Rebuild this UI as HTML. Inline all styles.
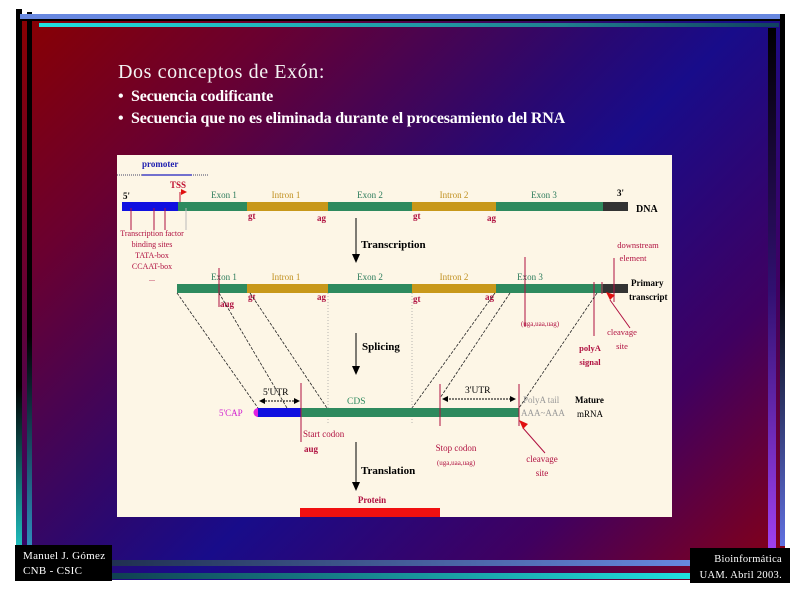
<!DOCTYPE html>
<html><head><meta charset="utf-8"><style>
body{margin:0;width:800px;height:600px;background:#fff;position:relative;overflow:hidden;font-family:"Liberation Serif",serif}
.a{position:absolute;white-space:nowrap}
</style></head><body>
<div class="a" style="left:17px;top:14px;width:768px;height:566px;background:linear-gradient(135deg,#8a0000 0%,#6a0030 20%,#2a0870 45%,#180c8a 55%,#400060 78%,#8a0010 100%)"></div>
<div class="a" style="left:16px;top:9px;width:6px;height:540px;background:linear-gradient(#000,#000 70%,#20c0c0)"></div>
<div class="a" style="left:27px;top:12px;width:5px;height:540px;background:linear-gradient(#000,#000 60%,#3090c0)"></div>
<div class="a" style="left:20px;top:14px;width:762px;height:5px;background:#6888e0"></div>
<div class="a" style="left:20px;top:19px;width:762px;height:2px;background:#000"></div>
<div class="a" style="left:39px;top:23px;width:740px;height:4px;background:linear-gradient(90deg,#20e0e0,#208090 70%,#104060)"></div>
<div class="a" style="left:768px;top:28px;width:8px;height:522px;background:linear-gradient(#000,#301070 50%,#a040f0)"></div>
<div class="a" style="left:780px;top:14px;width:5px;height:532px;background:linear-gradient(#000,#000 50%,#6070e0)"></div>
<div class="a" style="left:110px;top:560px;width:582px;height:6px;background:linear-gradient(90deg,#203050,#6888e0)"></div>
<div class="a" style="left:110px;top:573px;width:582px;height:6px;background:linear-gradient(90deg,#104050,#20e0e0)"></div>
<div class="a" style="left:15px;top:545px;width:97px;height:36px;background:#000;color:#fff;font-size:11px;line-height:15px;padding:4px 0 0 8px;box-sizing:border-box;letter-spacing:.3px">Manuel J. Gómez<br>CNB - CSIC</div>
<div class="a" style="left:690px;top:548px;width:100px;height:35px;background:#000;color:#fff;font-size:10.5px;line-height:16px;padding:4px 8px 0 0;box-sizing:border-box;text-align:right;letter-spacing:.3px">Bioinformática<br>UAM. Abril 2003.</div>
<div class="a" style="left:118px;top:61px;color:#f4f4f4;font-size:20px;letter-spacing:.6px">Dos conceptos de Exón:</div>
<div class="a" style="left:118px;top:88px;color:#fff;font-size:16px;font-weight:bold">•</div>
<div class="a" style="left:118px;top:110px;color:#fff;font-size:16px;font-weight:bold">•</div>
<div class="a" style="left:131px;top:88px;color:#fff;font-size:16px;font-weight:bold;letter-spacing:-.2px">Secuencia codificante</div>
<div class="a" style="left:131px;top:110px;color:#fff;font-size:16px;font-weight:bold;letter-spacing:-.2px">Secuencia que no es eliminada durante el procesamiento del RNA</div>
<svg class="a" style="left:0;top:0" width="800" height="600" font-family="Liberation Serif,serif">
<rect x="117" y="155" width="555" height="362" fill="#fdf6e6"/>
<g font-size="9">
<text x="142" y="167" fill="#2020b0" font-weight="bold">promoter</text>
<line x1="117" y1="175" x2="208" y2="175" stroke="#446" stroke-dasharray="1,1"/>
<line x1="142" y1="175" x2="192" y2="175" stroke="#2020c0" stroke-width="1.2"/>
<text x="123" y="199" font-weight="bold">5'</text><text x="617" y="196" font-weight="bold">3'</text>
<text x="170" y="188" fill="#c01030" font-weight="bold">TSS</text>
<line x1="180" y1="192" x2="180" y2="203" stroke="#c01030"/><path d="M181,189 l6,3 -6,3z" fill="#e01010"/>
<g fill="#2a7a5a" text-anchor="middle"><text x="224" y="198">Exon 1</text><text x="370" y="198">Exon 2</text><text x="544" y="198">Exon 3</text>
<text x="224" y="280">Exon 1</text><text x="370" y="280">Exon 2</text><text x="530" y="280">Exon 3</text></g>
<g fill="#c09020" text-anchor="middle"><text x="286" y="198">Intron 1</text><text x="454" y="198">Intron 2</text><text x="286" y="280">Intron 1</text><text x="454" y="280">Intron 2</text></g>
</g>
<rect x="122" y="202" width="56" height="9" fill="#1010e0"/>
<rect x="178" y="202" width="69" height="9" fill="#2e8a5e"/><rect x="247" y="202" width="81" height="9" fill="#c8981a"/>
<rect x="328" y="202" width="84" height="9" fill="#2e8a5e"/><rect x="412" y="202" width="84" height="9" fill="#c8981a"/>
<rect x="496" y="202" width="107" height="9" fill="#2e8a5e"/><rect x="603" y="202" width="25" height="9" fill="#333"/>
<text x="636" y="212" font-size="10" font-weight="bold">DNA</text>
<g stroke="#b01040"><line x1="131" y1="208" x2="131" y2="230"/><line x1="154" y1="208" x2="154" y2="230"/><line x1="165" y1="208" x2="165" y2="230"/></g>
<line x1="186" y1="208" x2="186" y2="230" stroke="#bbb"/>
<g fill="#b01040" font-size="8" text-anchor="middle"><text x="152" y="236">Transcription factor</text><text x="152" y="247">binding sites</text><text x="152" y="258">TATA-box</text><text x="152" y="269">CCAAT-box</text><text x="152" y="281">...</text></g>
<g fill="#b01040" font-size="9" font-weight="bold"><text x="248" y="219">gt</text><text x="317" y="221">ag</text><text x="413" y="219">gt</text><text x="487" y="221">ag</text>
<text x="248" y="300">gt</text><text x="317" y="300">ag</text><text x="413" y="302">gt</text><text x="485" y="300">ag</text><text x="220" y="307">aug</text></g>
<line x1="356" y1="218" x2="356" y2="256" stroke="#000"/><path d="M352,254 h8 l-4,9z"/>
<text x="361" y="248" font-size="11" font-weight="bold">Transcription</text>
<rect x="177" y="284" width="70" height="9" fill="#2e8a5e"/><rect x="247" y="284" width="81" height="9" fill="#c8981a"/>
<rect x="328" y="284" width="84" height="9" fill="#2e8a5e"/><rect x="412" y="284" width="84" height="9" fill="#c8981a"/>
<rect x="496" y="284" width="107" height="9" fill="#2e8a5e"/><rect x="603" y="284" width="25" height="9" fill="#333"/>
<text x="631" y="286" font-size="9" font-weight="bold">Primary</text><text x="629" y="300" font-size="9" font-weight="bold">transcript</text>
<g stroke="#b01040"><line x1="219" y1="268" x2="219" y2="307"/><line x1="525" y1="257" x2="525" y2="327"/><line x1="614" y1="258" x2="614" y2="302"/><line x1="594" y1="282" x2="594" y2="336"/><line x1="602" y1="282" x2="602" y2="294"/></g>
<line x1="630" y1="328" x2="610" y2="300" stroke="#b01040"/><path d="M606,292 l9,3 -5,5z" fill="#e01010"/>
<g fill="#b01040" font-size="8.5"><text x="540" y="326" text-anchor="middle" font-size="7">(uga,uaa,uag)</text>
<text x="638" y="248" text-anchor="middle">downstream</text><text x="633" y="261" text-anchor="middle">element</text>
<text x="622" y="335" text-anchor="middle">cleavage</text><text x="622" y="349" text-anchor="middle">site</text>
<text x="590" y="351" text-anchor="middle" font-weight="bold">polyA</text><text x="590" y="365" text-anchor="middle" font-weight="bold">signal</text></g>
<g stroke="#222" stroke-width=".8" stroke-dasharray="3,1.5" fill="none">
<line x1="177" y1="293" x2="258" y2="408"/><line x1="219" y1="293" x2="287" y2="408"/><line x1="250" y1="293" x2="327" y2="408"/>
<line x1="495" y1="293" x2="412" y2="408"/><line x1="510" y1="293" x2="440" y2="398"/><line x1="597" y1="293" x2="519" y2="408"/></g>
<g stroke="#999" stroke-width=".7" stroke-dasharray="1,2"><line x1="328" y1="293" x2="328" y2="425"/><line x1="412" y1="293" x2="412" y2="425"/></g>
<line x1="356" y1="333" x2="356" y2="368" stroke="#000"/><path d="M352,366 h8 l-4,9z"/>
<text x="362" y="350" font-size="11" font-weight="bold">Splicing</text>
<rect x="257" y="408" width="44" height="9" fill="#1010e0"/><rect x="301" y="408" width="218" height="9" fill="#2e8a5e"/>
<path d="M258,408 a4.5,4.5 0 0 0 0,9z" fill="#e020e0"/>
<text x="219" y="416" font-size="9" fill="#d020d0">5'CAP</text>
<g stroke="#b01040"><line x1="301" y1="383" x2="301" y2="442"/><line x1="440" y1="384" x2="440" y2="426"/><line x1="519" y1="384" x2="519" y2="426"/></g>
<g stroke="#000" stroke-dasharray="2,1"><line x1="262" y1="401" x2="297" y2="401"/><line x1="446" y1="399" x2="512" y2="399"/></g>
<path d="M259,401 l6,-3 0,6z M300,401 l-6,-3 0,6z M442,399 l6,-3 0,6z M516,399 l-6,-3 0,6z"/>
<text x="263" y="395" font-size="9.5">5'UTR</text><text x="465" y="393" font-size="9.5">3'UTR</text>
<text x="347" y="404" font-size="9.5" fill="#2e8a5e">CDS</text>
<text x="523" y="403" font-size="9" fill="#999">PolyA tail</text><text x="521" y="416" font-size="9" fill="#999">AAA~AAA</text>
<text x="575" y="403" font-size="9" font-weight="bold">Mature</text><text x="577" y="417" font-size="9">mRNA</text>
<line x1="545" y1="453" x2="523" y2="428" stroke="#b01040"/><path d="M519,420 l9,4 -5,5z" fill="#e01010"/>
<g fill="#b01040" font-size="9"><text x="303" y="437">Start codon</text><text x="304" y="452" font-weight="bold">aug</text>
<text x="456" y="451" text-anchor="middle">Stop codon</text><text x="456" y="465" text-anchor="middle" font-size="7">(uga,uaa,uag)</text>
<text x="542" y="462" text-anchor="middle">cleavage</text><text x="542" y="476" text-anchor="middle">site</text>
<text x="372" y="503" text-anchor="middle" font-weight="bold">Protein</text></g>
<line x1="356" y1="442" x2="356" y2="484" stroke="#000"/><path d="M352,482 h8 l-4,9z"/>
<text x="361" y="474" font-size="11" font-weight="bold">Translation</text>
<rect x="300" y="508" width="140" height="9" fill="#f01010"/>
</svg>
</body></html>
